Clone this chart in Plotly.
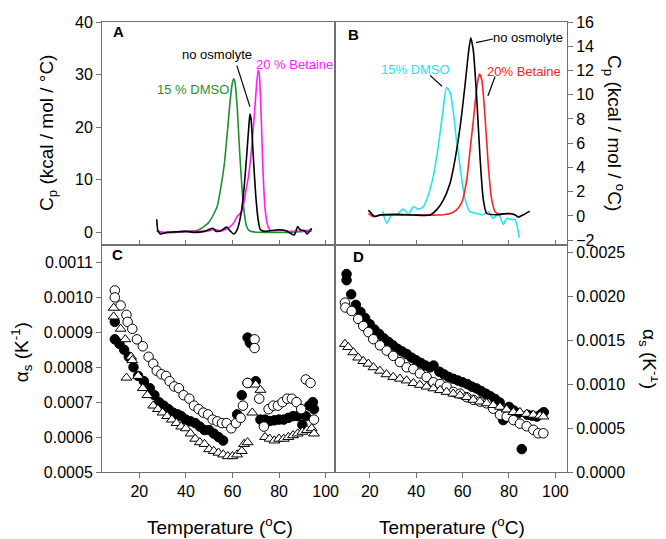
import plotly.graph_objects as go

# ---------------- Panel A (DSC, osmolytes) ----------------
a_dmso_T = [27.5, 30, 35, 40, 44, 46, 48, 50, 52, 53.5, 55, 56.5, 58, 59, 60, 60.5, 61, 62, 63, 64, 65, 66, 67, 69, 75, 80, 85, 90, 94]
a_dmso_cp = [0.3, 0.0, 0.1, 0.2, 0.3, 0.6, 1.2, 2.0, 3.5, 5.0, 8.5, 13.0, 20.0, 25.0, 28.5, 29.2, 28.8, 24.0, 16.0, 9.0, 4.0, 1.2, 0.4, 0.1, 0.0, 0.0, 0.0, 0.2, 0.3]

a_none_T = [27.5, 28, 29, 32, 36, 40, 44, 48, 51.5, 53, 55, 57.5, 59, 60.5, 62, 63, 64, 65, 66, 67, 67.5, 68, 69, 70, 71, 72, 74, 76, 80, 83, 85, 86.5, 88, 89, 91, 92, 94]
a_none_cp = [2.5, 0.3, -0.3, 0.0, 0.1, 0.2, 0.0, 0.2, 0.8, 0.2, 0.3, 1.0, 0.3, -0.3, 0.5, 2.0, 4.5, 8.5, 14.0, 20.0, 22.5, 21.5, 14.0, 7.0, 2.5, 0.5, 0.2, 0.3, 0.5, 0.3, -0.2, -0.5, 1.1, 0.5, 0.3, -0.3, 0.8]

a_bet_T = [27.5, 30, 35, 40, 45, 50, 52, 55, 58, 60, 62, 64, 65, 66, 67, 68, 69, 70, 71, 71.5, 72, 72.5, 73, 73.5, 74, 75, 76, 77, 80, 85, 90, 94]
a_bet_cp = [0.3, 0.0, 0.0, 0.2, 0.2, 0.3, 0.6, 0.3, 0.8, 1.5, 3.0, 4.0, 6.0, 8.5, 11.0, 15.0, 20.0, 26.0, 30.8, 30.2, 26.0, 20.0, 13.0, 8.0, 4.5, 1.5, 0.5, 0.3, 0.4, 0.2, 0.3, 0.5]

# ---------------- Panel B (DSC) ----------------
b_dmso_T = [25.5, 27.3, 29.4, 31.5, 34.5, 36.6, 38.8, 40.9, 43.0, 45.2, 47.4, 49.5, 51.7, 53.1, 54.6, 56.0, 57.4, 58.9, 60.3, 61.8, 63.2, 66.1, 69.0, 71.1, 73.2, 75.4, 77.6, 79.0, 81.1, 82.6, 84.5]
b_dmso_cp = [0.4, -0.6, 0.1, 0.1, 0.56, 0.13, 0.75, 0.56, 0.75, 1.7, 3.3, 5.7, 8.9, 10.6, 10.2, 8.6, 6.2, 4.1, 2.2, 0.9, 0.35, 0.2, 0.1, 0.35, -0.2, 0.2, -0.7, -0.2, -0.3, -0.3, -1.8]

b_none_T = [19.4, 22.2, 24.4, 31.0, 38.8, 46.0, 48.8, 51.7, 54.6, 56.7, 58.9, 61.0, 62.5, 63.5, 64.6, 66.1, 67.5, 68.9, 70.4, 74.7, 79.0, 82.6, 84.0, 86.2, 89.0]
b_none_cp = [0.48, -0.05, 0.08, 0.13, 0.08, 0.08, 0.5, 1.3, 2.7, 4.6, 7.3, 10.7, 13.4, 14.7, 13.7, 9.7, 4.9, 1.4, 0.2, 0.1, 0.2, 0.1, -0.1, 0.1, 0.4]

b_bet_T = [19.4, 21.5, 24.4, 31.0, 38.8, 50.3, 54.6, 57.4, 59.6, 61.8, 63.2, 64.6, 66.1, 67.2, 68.2, 69.7, 71.1, 72.5, 74.0, 76.1, 80.4, 82.6]
b_bet_cp = [0.2, -0.05, 0.08, 0.08, 0.08, 0.08, 0.2, 0.5, 1.1, 3.0, 5.4, 7.8, 10.5, 11.7, 11.3, 8.1, 4.1, 1.4, 0.35, 0.13, 0.2, 0.08]

# ---------------- Panel C (alpha_s) ----------------
c_fill_T = [9.5, 9.5, 11.5, 13.5, 15.5, 17.5, 19.5, 22, 24.5, 26.5, 28.5, 30.5, 32.5, 34.5, 36.5, 38, 40, 42, 44, 46, 48, 50, 52, 54, 56, 62, 64, 66.5, 66.5, 67.5, 70, 72, 74, 76, 78, 80, 82, 84, 86, 88, 90, 91.5, 93, 94.5, 95]
c_fill_v = [0.00093, 0.00088, 0.000867, 0.00085, 0.00083, 0.0008, 0.000775, 0.00076, 0.00074, 0.00072, 0.0007, 0.00069, 0.00068, 0.00067, 0.000665, 0.00066, 0.00065, 0.000645, 0.00064, 0.00063, 0.00062, 0.00062, 0.00061, 0.0006, 0.00059, 0.000665, 0.00072, 0.000755, 0.000885, 0.00087, 0.00076, 0.00065, 0.00065, 0.000646, 0.000648, 0.00065, 0.00065, 0.000655, 0.00066, 0.00066, 0.000635, 0.00066, 0.00069, 0.0007, 0.00068]

c_open_T = [9.5, 9.5, 12, 14.5, 15, 17, 19, 21.5, 24, 26, 27.5, 29.5, 31.5, 33, 35, 37, 39, 41.5, 43.5, 45.5, 47.5, 49.5, 51.5, 53.5, 55.5, 57.5, 59.5, 61.5, 63.5, 64.5, 66.5, 69.5, 69.5, 71.5, 73.5, 75.5, 77.5, 79.5, 81.5, 83.5, 85.5, 87.5, 89.5, 91.5, 93.5, 95]
c_open_v = [0.00102, 0.001, 0.000977, 0.00095, 0.00093, 0.00091, 0.00088, 0.00086, 0.00083, 0.00081, 0.00079, 0.00078, 0.000775, 0.00076, 0.000745, 0.00074, 0.00072, 0.00071, 0.00069, 0.00068, 0.00067, 0.000665, 0.00065, 0.000645, 0.00064, 0.00064, 0.000625, 0.00064, 0.000655, 0.00069, 0.000755, 0.00088, 0.000855, 0.00071, 0.00063, 0.00068, 0.00069, 0.00069, 0.0007, 0.00071, 0.00071, 0.0007, 0.00068, 0.000765, 0.000755, 0.00065]

c_tri_T = [9, 9, 12, 14, 14.5, 16.5, 17, 19.5, 21.5, 23.5, 26, 28, 30, 32, 34, 36, 38, 40, 42, 44, 46, 48, 50, 52, 54, 56, 58, 60, 62, 64, 65, 66.5, 68.5, 70, 72, 74, 76, 78, 80, 82, 84, 86, 88, 90, 92, 94, 95]
c_tri_v = [0.00097, 0.000945, 0.00091, 0.00088, 0.00077, 0.00083, 0.00082, 0.000775, 0.00074, 0.00072, 0.00069, 0.00068, 0.00067, 0.00066, 0.00065, 0.00064, 0.00063, 0.000625, 0.00061, 0.000595, 0.000585, 0.00058, 0.000565, 0.00056, 0.000555, 0.00055, 0.000545, 0.000545, 0.00055, 0.00056, 0.00058, 0.000585, 0.00067, 0.00075, 0.000735, 0.0006, 0.000595, 0.00059, 0.000595, 0.000595, 0.0006, 0.000605, 0.00061, 0.000615, 0.00062, 0.000625, 0.00061]

# ---------------- Panel D (alpha_s) ----------------
d_fill_T = [10, 10, 12, 14, 16, 18, 20, 22, 24, 26, 28, 30, 32, 34, 36, 38, 40, 42, 44, 46, 47.5, 50, 52, 54, 56, 58, 60, 62, 64, 66, 68, 70, 72, 74, 76, 77.5, 80, 82, 84, 85.5, 88, 90, 92, 94, 95]
d_fill_v = [0.00225, 0.00218, 0.00202, 0.0019, 0.00182, 0.00175, 0.00168, 0.00162, 0.00157, 0.00152, 0.00148, 0.00144, 0.0014, 0.00137, 0.00134, 0.0013, 0.00127, 0.00124, 0.00121, 0.00119, 0.00121, 0.00114, 0.00111, 0.00108, 0.00106, 0.00104, 0.00102, 0.001, 0.00097, 0.00095, 0.00092, 0.00089, 0.00086, 0.00083, 0.00079, 0.00059, 0.00074, 0.0007, 0.00067, 0.00026, 0.00065, 0.00064, 0.00063, 0.00066, 0.00068]

d_open_T = [9.3, 9.5, 12.2, 15, 17.2, 19.4, 21.5, 24.4, 27.3, 30.1, 33, 35.9, 38.8, 41.6, 44.5, 47.4, 50.3, 53.1, 56, 58.9, 61.8, 64.6, 67.5, 70.4, 73.2, 76.1, 79, 81.9, 84.7, 87.6, 90.5, 92.6, 94.8]
d_open_v = [0.001925, 0.00187, 0.00183, 0.00174, 0.00166, 0.00159, 0.00151, 0.00144, 0.00138, 0.00132, 0.00125, 0.00119, 0.00117, 0.00112, 0.00108, 0.00102, 0.001, 0.00097, 0.00091, 0.00089, 0.00085, 0.00082, 0.0008, 0.00078, 0.00072, 0.00065, 0.00063, 0.00059, 0.00055, 0.00052, 0.00048, 0.00044, 0.00044]

d_tri_T = [9.3, 10.7, 12.9, 15, 17.2, 19.4, 21.6, 24.4, 27.2, 30.1, 33, 35.9, 38.8, 41.6, 44.5, 47.4, 50.3, 53.1, 56, 58.9, 61.8, 64.6, 67.5, 70.4, 73.2, 76.1, 79, 81.9, 84.7, 87.6, 90.5, 93.3, 94.8]
d_tri_v = [0.001455, 0.00142, 0.00136, 0.0013, 0.00126, 0.00123, 0.00119, 0.00115, 0.00111, 0.00108, 0.00106, 0.00104, 0.00101, 0.00099, 0.00097, 0.00095, 0.00093, 0.00091, 0.00089, 0.00087, 0.00085, 0.00082, 0.0008, 0.00078, 0.00076, 0.00074, 0.00071, 0.00068, 0.00068, 0.00066, 0.00065, 0.00064, 0.00063]

x_ticks = [20, 40, 60, 80, 100]

GREEN = '#1f8f2f'
MAGENTA = '#ff1aff'
CYAN = '#22e6ee'
RED = '#ff2222'
AXC = '#707070'
FONT = 'Arial, Liberation Sans, sans-serif'

fig = go.Figure()

def line(x, y, color, xa, ya):
    fig.add_trace(go.Scatter(x=x, y=y, mode='lines', line=dict(color=color, width=1.6, shape='spline', smoothing=0.6),
                             xaxis=xa, yaxis=ya, showlegend=False, hoverinfo='skip'))

line(a_dmso_T, a_dmso_cp, GREEN, 'x', 'y')
line(a_bet_T, a_bet_cp, MAGENTA, 'x', 'y')
line(a_none_T, a_none_cp, 'black', 'x', 'y')

line(b_dmso_T, b_dmso_cp, CYAN, 'x2', 'y2')
line(b_bet_T, b_bet_cp, RED, 'x2', 'y2')
line(b_none_T, b_none_cp, 'black', 'x2', 'y2')

def pts(x, y, symbol, fill, xa, ya):
    fig.add_trace(go.Scatter(x=x, y=y, mode='markers',
                             marker=dict(symbol=symbol, size=9.5, color=fill, line=dict(color='black', width=1)),
                             xaxis=xa, yaxis=ya, showlegend=False, hoverinfo='skip'))

pts(c_fill_T, c_fill_v, 'circle', 'black', 'x3', 'y3')
pts(c_open_T, c_open_v, 'circle', 'white', 'x3', 'y3')
pts(c_tri_T, c_tri_v, 'triangle-up', 'white', 'x3', 'y3')

pts(d_fill_T, d_fill_v, 'circle', 'black', 'x4', 'y4')
pts(d_open_T, d_open_v, 'circle', 'white', 'x4', 'y4')
pts(d_tri_T, d_tri_v, 'triangle-up', 'white', 'x4', 'y4')

axis_common = dict(showline=True, linecolor=AXC, linewidth=1, mirror=True, showgrid=False, zeroline=False,
                   ticks='outside', ticklen=5, tickcolor=AXC, ticklabeloverflow='allow',
                   tickfont=dict(family=FONT, size=16, color='black'))

# ---- geometry (page pixels; the page has an 8 px body margin) ----
PAGE_OFF = 8
FIG_W, FIG_H = 666 - PAGE_OFF, 539 - PAGE_OFF
M_L, M_R, M_T, M_B = 94, 99, 6, 67
PLOT_W = FIG_W - M_L - M_R
PLOT_H = FIG_H - M_T - M_B
PLOT_X0 = PAGE_OFF + M_L
PLOT_YB = PAGE_OFF + FIG_H - M_B
SPLIT_Y = 241  # page y of the boundary between upper and lower panels

def px(xp):
    return (xp - PLOT_X0) / PLOT_W

def py(yp):
    return (PLOT_YB - yp) / PLOT_H

ysplit = py(SPLIT_Y)
XL = [0, 0.501]
XR = [0.501, 1]
YT = [ysplit, 1]
YB = [0, ysplit]

fig.update_layout(
    width=FIG_W, height=FIG_H,
    margin=dict(l=M_L, r=M_R, t=M_T, b=M_B),
    paper_bgcolor='white', plot_bgcolor='white',
    xaxis=dict(**{**axis_common, 'ticks': 'inside'}, domain=XL, anchor='y', range=[4, 104], tickvals=x_ticks, showticklabels=False),
    yaxis=dict(**axis_common, domain=YT, anchor='x', range=[-2.4, 40], tickvals=[0, 10, 20, 30, 40]),
    xaxis2=dict(**{**axis_common, 'ticks': 'inside'}, domain=XR, anchor='y2', range=[5, 105], tickvals=x_ticks, showticklabels=False),
    yaxis2=dict(**axis_common, domain=YT, anchor='x2', side='right', range=[-2.4, 16], tickvals=[-2, 0, 2, 4, 6, 8, 10, 12, 14, 16]),
    xaxis3=dict(**axis_common, domain=XL, anchor='y3', range=[4, 104], tickvals=x_ticks),
    yaxis3=dict(**axis_common, domain=YB, anchor='x3', range=[0.0005, 0.00115],
                tickvals=[0.0005, 0.0006, 0.0007, 0.0008, 0.0009, 0.0010, 0.0011], tickformat='.4f'),
    xaxis4=dict(**axis_common, domain=XR, anchor='y4', range=[5, 105], tickvals=x_ticks),
    yaxis4=dict(**axis_common, domain=YB, anchor='x4', side='right', range=[0, 0.00258],
                tickvals=[0, 0.0005, 0.001, 0.0015, 0.002, 0.0025], tickformat='.4f'),
)

ann = []
def txt(text, x, y, xref, yref, size, color='black', angle=0, bold=False):
    ann.append(dict(text=('<b>%s</b>' % text) if bold else text, x=x, y=y, xref=xref, yref=yref, showarrow=False,
                    textangle=angle, xanchor='center', yanchor='middle',
                    font=dict(family=FONT, size=size, color=color)))

# panel letters
txt('A', px(118), py(24), 'paper', 'paper', 15, bold=True)
txt('B', px(353), py(27), 'paper', 'paper', 15, bold=True)
txt('C', px(117), py(251), 'paper', 'paper', 15, bold=True)
txt('D', px(358), py(253), 'paper', 'paper', 15, bold=True)

# axis titles
txt('C<sub>p</sub> (kcal / mol / °C)', px(48), py(127), 'paper', 'paper', 19, angle=-90)
txt('C<sub>p</sub> (kcal / mol / <sup>o</sup>C)', px(615), py(127), 'paper', 'paper', 19, angle=90)
txt('α<sub>s</sub> (K<sup>-1</sup>)', px(21), py(350), 'paper', 'paper', 19, angle=-90)
txt('α<sub>s</sub> (K<sup>-1</sup>)', px(650), py(357), 'paper', 'paper', 19, angle=90)
txt('Temperature (<sup>o</sup>C)', px(220), py(527), 'paper', 'paper', 19)
txt('Temperature (<sup>o</sup>C)', px(452), py(527), 'paper', 'paper', 19)

# curve labels
txt('15 % DMSO', 43.1, 27.2, 'x', 'y', 13, GREEN)
txt('no osmolyte', 53.4, 33.8, 'x', 'y', 13)
txt('20 % Betaine', 86.8, 31.9, 'x', 'y', 13, MAGENTA)
txt('15% DMSO', 39.9, 12.1, 'x2', 'y2', 13, CYAN)
txt('no osmolyte', 88.2, 14.7, 'x2', 'y2', 13)
txt('20% Betaine', 86.5, 11.9, 'x2', 'y2', 13, RED)

fig.update_layout(annotations=ann)

shapes = [
    dict(type='line', xref='x', yref='y', x0=61.9, y0=31.7, x1=67.5, y1=23.9, line=dict(color='black', width=1.2)),
    dict(type='line', xref='x2', yref='y2', x0=46.0, y0=11.6, x1=51.1, y1=10.7, line=dict(color='black', width=1.2)),
    dict(type='line', xref='x2', yref='y2', x0=65.8, y0=14.3, x1=73.1, y1=14.6, line=dict(color='black', width=1.2)),
    dict(type='line', xref='x2', yref='y2', x0=74.0, y0=11.5, x1=70.9, y1=9.9, line=dict(color='black', width=1.2)),
]
fig.update_layout(shapes=shapes)

fig.write_html('out.html')
